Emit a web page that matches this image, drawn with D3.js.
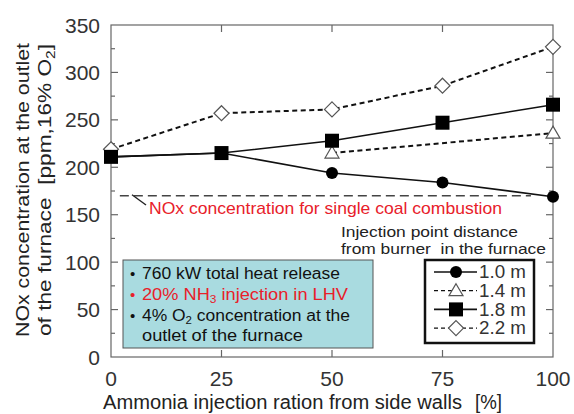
<!DOCTYPE html>
<html>
<head>
<meta charset="utf-8">
<script src="https://cdn.jsdelivr.net/npm/d3@7"></script>
<style>
  html, body { margin: 0; padding: 0; background: #fff; }
  svg { display: block; font-family: Arial, "Liberation Sans", sans-serif; }
</style>
</head>
<body>
<div id="chart"></div>
<script>
// ---- data ----
const xTicks = [0, 25, 50, 75, 100];
const yTicks = [0, 50, 100, 150, 200, 250, 300, 350];
const seriesNames = ["1.0 m", "1.4 m", "1.8 m", "2.2 m"];
const x10 = [0, 25, 50, 75, 100];
const y10 = [211, 215, 194, 184, 169];
const x14 = [50, 100];
const y14 = [215, 236];
const x18 = [0, 25, 50, 75, 100];
const y18 = [211, 215, 228, 247, 266];
const x22 = [0, 25, 50, 75, 100];
const y22 = [219, 257, 261, 286, 327];
const coalOnly = 170;
const coalRange = [2, 95];
const infoLines = ["760 kW total heat release", "20% NH3 injection in LHV", "4% O2 concentration at the", "outlet of the furnace"];

const W = 574, H = 414;
const svg = d3.select("#chart").append("svg").attr("width", W).attr("height", H);

const x = d3.scaleLinear().domain([0, 100]).range([111, 553]);
const y = d3.scaleLinear().domain([0, 350]).range([357, 25]);
const ink = "#222";
const frame = "#666";

// text with sub-script digit after NH / O
function richText(sel, t, subSize) {
  const m = t.match(/^(.*?(NH|O))(\d)(.*)$/);
  if (m) {
    sel.append("tspan").text(m[1]);
    sel.append("tspan").attr("dy", 3).attr("font-size", subSize).text(m[3]);
    sel.append("tspan").attr("dy", -3).text(m[4]);
  } else {
    sel.text(t);
  }
  return sel;
}

// frame
svg.append("rect")
  .attr("x", x(0)).attr("y", y(350))
  .attr("width", x(100) - x(0)).attr("height", y(0) - y(350))
  .attr("fill", "none").attr("stroke", frame).attr("stroke-width", 1.2);

// ticks (inward)
const yMinor = d3.range(25, 350, 25);
const tickG = svg.append("g").attr("stroke", frame).attr("stroke-width", 1.2);
yMinor.forEach(v => {
  const len = v % 50 === 0 ? 7 : 4;
  tickG.append("line").attr("x1", x(0)).attr("x2", x(0) + len).attr("y1", y(v)).attr("y2", y(v));
  tickG.append("line").attr("x1", x(100)).attr("x2", x(100) - len).attr("y1", y(v)).attr("y2", y(v));
});
[25, 50, 75].forEach(v => {
  tickG.append("line").attr("x1", x(v)).attr("x2", x(v)).attr("y1", y(0)).attr("y2", y(0) - 7);
  tickG.append("line").attr("x1", x(v)).attr("x2", x(v)).attr("y1", y(350)).attr("y2", y(350) + 7);
});

// tick labels
svg.append("g").selectAll("text").data(yTicks).join("text")
  .attr("x", x(0) - 11).attr("y", d => y(d)).attr("dy", "0.36em")
  .attr("text-anchor", "end").attr("font-size", 21).attr("fill", "#333")
  .text(d => d);
svg.append("g").selectAll("text").data(xTicks).join("text")
  .attr("x", d => x(d)).attr("y", 386)
  .attr("text-anchor", "middle").attr("font-size", 21).attr("fill", "#333")
  .text(d => d);

// axis titles
svg.append("text").attr("x", 103).attr("y", 409).attr("font-size", 19.5).attr("fill", ink)
  .attr("textLength", 359).attr("lengthAdjust", "spacingAndGlyphs")
  .text("Ammonia injection ration from side walls");
svg.append("text").attr("x", 475).attr("y", 409).attr("font-size", 19.5).attr("fill", ink)
  .attr("textLength", 27).attr("lengthAdjust", "spacingAndGlyphs")
  .text("[%]");

svg.append("text").attr("transform", "translate(29,190) rotate(-90)")
  .attr("text-anchor", "middle").attr("font-size", 19).attr("fill", ink)
  .attr("textLength", 294).attr("lengthAdjust", "spacingAndGlyphs")
  .text("NOx concentration at the outlet");
const yt2 = svg.append("text").attr("transform", "translate(51,190) rotate(-90)")
  .attr("text-anchor", "middle").attr("font-size", 19).attr("fill", ink)
  .attr("textLength", 292).attr("lengthAdjust", "spacingAndGlyphs")
  .attr("xml:space", "preserve");
yt2.append("tspan").text("of the furnace  [ppm,16% O");
yt2.append("tspan").attr("dy", 4).attr("font-size", 13).text("2");
yt2.append("tspan").attr("dy", -4).text("]");

// single coal reference
svg.append("line")
  .attr("x1", x(coalRange[0])).attr("x2", x(coalRange[1]))
  .attr("y1", y(coalOnly)).attr("y2", y(coalOnly))
  .attr("stroke", "#444").attr("stroke-width", 1.3).attr("stroke-dasharray", "9,5");
svg.append("line").attr("x1", 132).attr("y1", y(coalOnly) - 1).attr("x2", 146).attr("y2", 205)
  .attr("stroke", "#222").attr("stroke-width", 1.4);
svg.append("text").attr("x", 149).attr("y", 214).attr("font-size", 17).attr("fill", "#e8202a")
  .attr("textLength", 353).attr("lengthAdjust", "spacingAndGlyphs")
  .text("NOx concentration for single coal combustion");

// series lines
const line = d3.line().x(d => x(d[0])).y(d => y(d[1]));
const series = [
  { name: seriesNames[0], xs: x10, ys: y10, dash: null, shape: "circle" },
  { name: seriesNames[1], xs: x14, ys: y14, dash: "5,3.5", shape: "triangle" },
  { name: seriesNames[2], xs: x18, ys: y18, dash: null, shape: "square" },
  { name: seriesNames[3], xs: x22, ys: y22, dash: "5,3.5", shape: "diamond" }
];
series.forEach(s => {
  s.pts = s.xs.map((v, i) => [v, s.ys[i]]);
  svg.append("path").datum(s.pts).attr("d", line)
    .attr("fill", "none").attr("stroke", "#111")
    .attr("stroke-width", s.dash ? 2 : 1.6)
    .attr("stroke-dasharray", s.dash);
});

function marker(g, shape, cx, cy) {
  if (shape === "circle") {
    g.append("circle").attr("cx", cx).attr("cy", cy).attr("r", 6).attr("fill", "#000");
  } else if (shape === "square") {
    g.append("rect").attr("x", cx - 7).attr("y", cy - 7).attr("width", 14).attr("height", 14).attr("fill", "#000");
  } else if (shape === "triangle") {
    g.append("path").attr("d", `M${cx},${cy - 7}L${cx + 7},${cy + 5}L${cx - 7},${cy + 5}Z`)
      .attr("fill", "#fff").attr("stroke", "#555").attr("stroke-width", 1.2);
  } else {
    g.append("path").attr("d", `M${cx},${cy - 7.5}L${cx + 7.5},${cy}L${cx},${cy + 7.5}L${cx - 7.5},${cy}Z`)
      .attr("fill", "#fff").attr("stroke", "#555").attr("stroke-width", 1.2);
  }
}
const mg = svg.append("g");
// open markers first, then filled on top
[3, 1, 2, 0].forEach(i => {
  const s = series[i];
  s.pts.forEach(p => marker(mg, s.shape, x(p[0]), y(p[1])));
});

// legend header
svg.append("text").attr("x", 341).attr("y", 237).attr("font-size", 15).attr("fill", ink)
  .attr("textLength", 177).attr("lengthAdjust", "spacingAndGlyphs")
  .text("Injection point distance");
svg.append("text").attr("x", 341).attr("y", 254).attr("font-size", 15).attr("fill", ink)
  .attr("xml:space", "preserve")
  .attr("textLength", 205).attr("lengthAdjust", "spacingAndGlyphs")
  .text("from burner  in the furnace");

// legend box
svg.append("rect").attr("x", 425).attr("y", 260).attr("width", 109).attr("height", 83)
  .attr("fill", "#fff").attr("stroke", "#111").attr("stroke-width", 2.5);
series.forEach((s, i) => {
  const ly = 272 + i * 18.7;
  svg.append("line").attr("x1", 434).attr("x2", 477).attr("y1", ly).attr("y2", ly)
    .attr("stroke", "#111").attr("stroke-width", s.dash ? 1.3 : 1.6)
    .attr("stroke-dasharray", s.dash ? "4,3" : null);
  marker(svg, s.shape, 456, ly);
  svg.append("text").attr("x", 479).attr("y", ly).attr("dy", "0.36em")
    .attr("font-size", 17.5).attr("fill", "#333")
    .attr("textLength", 47).attr("lengthAdjust", "spacingAndGlyphs")
    .text(s.name);
});

// info box
svg.append("rect").attr("x", 123).attr("y", 260).attr("width", 250).attr("height", 88)
  .attr("fill", "#a9dbe0").attr("stroke", "#555").attr("stroke-width", 1);
const infoY = [279, 300, 321, 341];
const infoW = [198, 206, 208, 161];
infoLines.forEach((t, i) => {
  const col = i === 1 ? "#e8202a" : "#111";
  if (i < 3) {
    svg.append("text").attr("x", 130).attr("y", infoY[i]).attr("font-size", 15)
      .attr("fill", col).text("•");
  }
  const tx = svg.append("text").attr("x", 142).attr("y", infoY[i]).attr("font-size", 16)
    .attr("fill", col).attr("textLength", infoW[i]).attr("lengthAdjust", "spacingAndGlyphs");
  richText(tx, t, 10.5);
});
</script>
</body>
</html>
